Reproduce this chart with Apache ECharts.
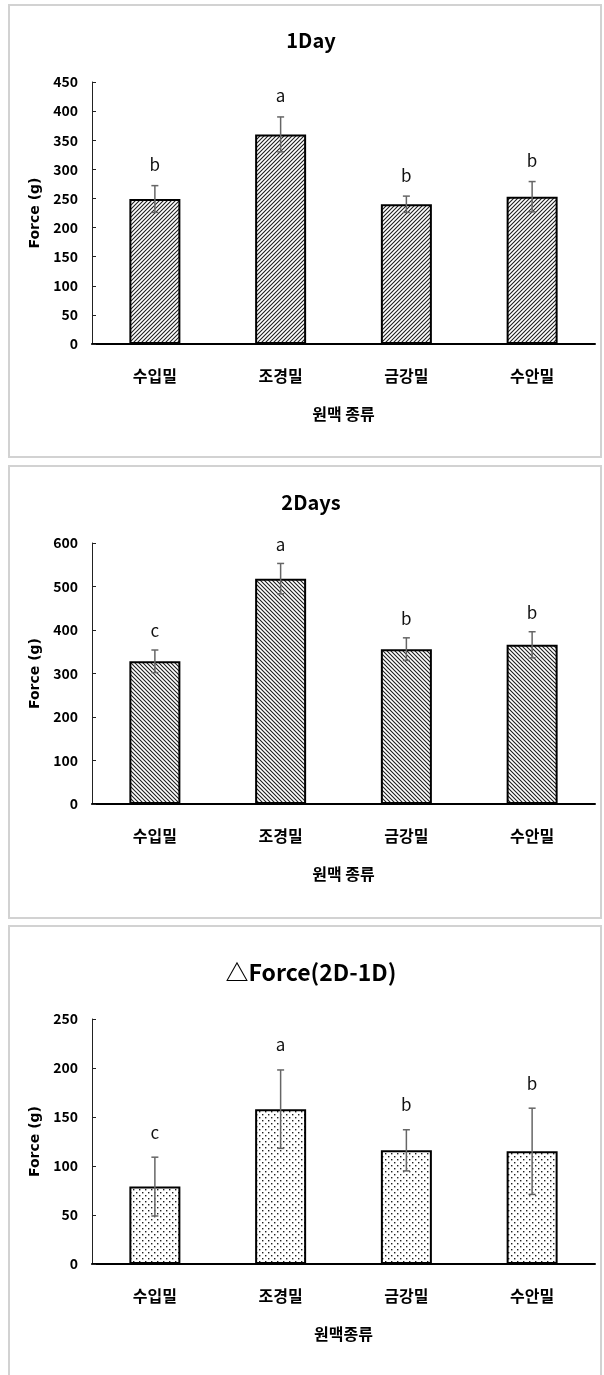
<!DOCTYPE html>
<html>
<head>
<meta charset="utf-8">
<script src="https://cdn.jsdelivr.net/npm/echarts@6/dist/echarts.min.js"></script>
<style>
  html, body { margin: 0; padding: 0; background: #fff; }
  #chart { width: 604px; height: 1375px; }
</style>
</head>
<body>
<div id="chart"></div>
<script>
// Wheat varieties on the x axis
const categories = ['수입밀', '조경밀', '금강밀', '수안밀'];

// Day 1 force (g): means, standard deviations, significance groups
const day1Mean = [249, 360, 240, 253];
const day1Err = [23, 30, 14, 26];
const day1Letters = ['b', 'a', 'b', 'b'];

// Day 2 force (g)
const day2Mean = [328, 518, 356, 366];
const day2Err = [26, 35, 26, 30];
const day2Letters = ['c', 'a', 'b', 'b'];

// Difference between day 2 and day 1 (g)
const deltaMean = [79, 158, 116, 115];
const deltaErr = [30, 40, 21, 44];
const deltaLetters = ['c', 'a', 'b', 'b'];

// Axis ranges and tick steps
const day1Axis = { max: 450, step: 50 };
const day2Axis = { max: 600, step: 100 };
const deltaAxis = { max: 250, step: 50 };

const KR = '"Noto Sans CJK KR", "Noto Sans", sans-serif';

// Fill patterns for the bars
function hatch(dir) {
  const s = 4;
  const c = document.createElement('canvas');
  c.width = c.height = s;
  const g = c.getContext('2d');
  g.fillStyle = '#fff';
  g.fillRect(0, 0, s, s);
  g.strokeStyle = '#1e1e1e';
  g.lineWidth = 1.1;
  g.beginPath();
  if (dir > 0) {
    g.moveTo(0, s); g.lineTo(s, 0);
    g.moveTo(-1, 1); g.lineTo(1, -1);
    g.moveTo(s - 1, s + 1); g.lineTo(s + 1, s - 1);
  } else {
    g.moveTo(0, 0); g.lineTo(s, s);
    g.moveTo(-1, s - 1); g.lineTo(1, s + 1);
    g.moveTo(s - 1, -1); g.lineTo(s + 1, 1);
  }
  g.stroke();
  return c;
}
function dots() {
  const c = document.createElement('canvas');
  c.width = 6; c.height = 6;
  const g = c.getContext('2d');
  g.fillStyle = '#fff';
  g.fillRect(0, 0, 6, 6);
  g.fillStyle = '#1e1e1e';
  g.fillRect(1, 1, 1.4, 1.4);
  g.fillRect(4, 4, 1.4, 1.4);
  return c;
}

const panels = [
  { title: '1Day', titleY: 40, titleSize: 20, mean: day1Mean, err: day1Err, letters: day1Letters, axis: day1Axis,
    name: '원맥 종류', top: 82, height: 262, fill: hatch(1), letterGap: 21, box: 5 },
  { title: '2Days', titleY: 502, titleSize: 20, mean: day2Mean, err: day2Err, letters: day2Letters, axis: day2Axis,
    name: '원맥 종류', top: 543, height: 261, fill: hatch(-1), letterGap: 19, box: 466 },
  { title: '\u25B3Force(2D-1D)', titleY: 972, titleSize: 23, mean: deltaMean, err: deltaErr, letters: deltaLetters, axis: deltaAxis,
    name: '원맥종류', top: 1019, height: 245, fill: dots(), letterGap: 25, box: 926 }
];

const grid = [], xAxis = [], yAxis = [], series = [], graphic = [];

panels.forEach((p, i) => {
  graphic.push({
    type: 'rect', silent: true, z: -1,
    shape: { x: 9, y: p.box, width: 592, height: 452 },
    style: { fill: 'none', stroke: '#d2d2d2', lineWidth: 2 }
  });
  graphic.push({
    type: 'text', x: 311, y: p.titleY, silent: true,
    style: { text: p.title, align: 'center', verticalAlign: 'middle',
      font: 'bold ' + p.titleSize + 'px ' + KR, fill: '#000' }
  });

  grid.push({ left: 92, width: 503, top: p.top, height: p.height, containLabel: false });

  xAxis.push({
    type: 'category', gridIndex: i, data: categories,
    name: p.name, nameLocation: 'middle', nameGap: 62,
    nameTextStyle: { fontFamily: KR, fontWeight: 'bold', fontSize: 16, color: '#000' },
    axisLine: { lineStyle: { color: '#000', width: 2 } },
    axisTick: { inside: true, length: 5, lineStyle: { color: '#000', width: 1 } },
    axisLabel: { margin: 24, fontFamily: KR, fontWeight: 'bold', fontSize: 16, color: '#000', lineHeight: 16 },
    splitLine: { show: false }
  });

  yAxis.push({
    type: 'value', gridIndex: i, min: 0, max: p.axis.max, interval: p.axis.step,
    name: 'Force (g)', nameLocation: 'middle', nameGap: 44, nameRotate: 90,
    nameTextStyle: { fontFamily: '"DejaVu Sans", sans-serif', fontWeight: 'bold', fontSize: 14, color: '#000' },
    axisLine: { show: true, lineStyle: { color: '#222', width: 1 } },
    axisTick: { show: true, inside: true, length: 4, lineStyle: { color: '#222' } },
    axisLabel: { margin: 14, fontFamily: KR, fontWeight: 'bold', fontSize: 14, color: '#000' },
    splitLine: { show: false }
  });

  series.push({
    type: 'bar', xAxisIndex: i, yAxisIndex: i, data: p.mean, barWidth: 51,
    itemStyle: { color: { image: p.fill, repeat: 'repeat' }, borderColor: '#000', borderWidth: 2 },
    animation: false, silent: true
  });

  const errData = p.mean.map((m, k) => [k, m - p.err[k], m + p.err[k]]);
  series.push({
    type: 'custom', xAxisIndex: i, yAxisIndex: i, data: errData, z: 5,
    encode: { x: 0, y: [1, 2] }, animation: false, silent: true,
    renderItem: (params, api) => {
      const k = api.value(0);
      const hi = api.coord([k, api.value(2)]);
      const lo = api.coord([k, api.value(1)]);
      const cap = 3.5;
      const st = { stroke: '#666', lineWidth: 1.5 };
      return {
        type: 'group',
        children: [
          { type: 'line', shape: { x1: hi[0], y1: hi[1], x2: lo[0], y2: lo[1] }, style: st },
          { type: 'line', shape: { x1: hi[0] - cap, y1: hi[1], x2: hi[0] + cap, y2: hi[1] }, style: st },
          { type: 'line', shape: { x1: lo[0] - cap, y1: lo[1], x2: lo[0] + cap, y2: lo[1] }, style: st },
          { type: 'text', x: hi[0], y: hi[1] - p.letterGap,
            style: { text: p.letters[params.dataIndex], align: 'center', verticalAlign: 'middle',
              font: '17px ' + KR, fill: '#111' } }
        ]
      };
    }
  });
});

const chart = echarts.init(document.getElementById('chart'), null, { renderer: 'canvas' });
chart.setOption({
  backgroundColor: '#fff',
  animation: false,
  grid, xAxis, yAxis, series, graphic
});
</script>
</body>
</html>
